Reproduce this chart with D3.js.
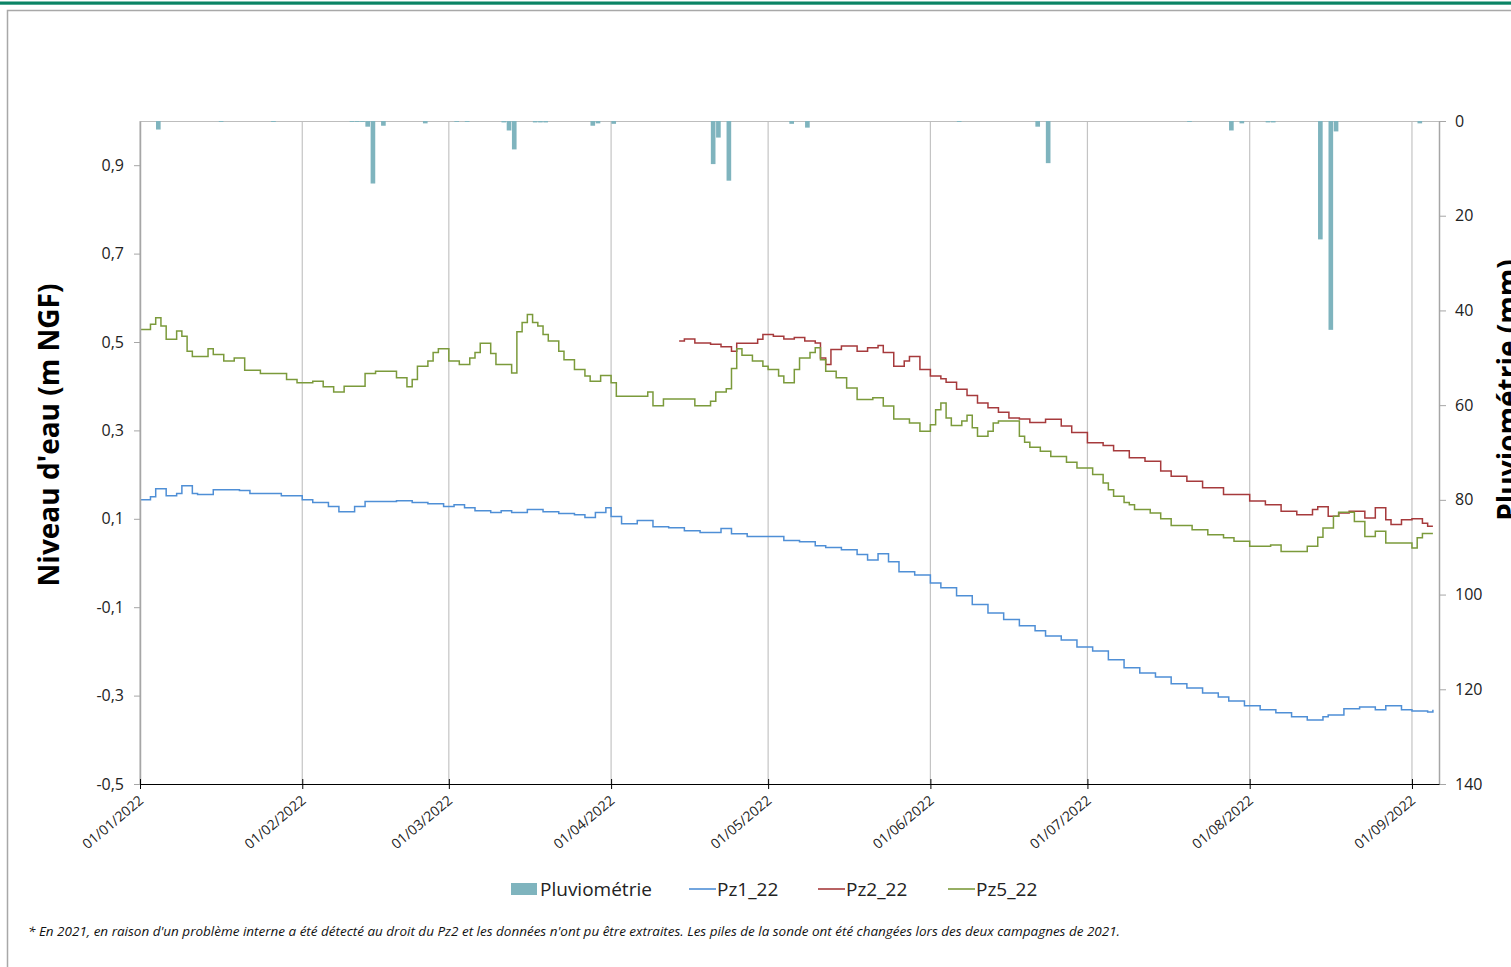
<!DOCTYPE html>
<html lang="fr">
<head>
<meta charset="utf-8">
<script src="https://cdn.jsdelivr.net/npm/d3@7"></script>
<style>
  html, body { margin: 0; padding: 0; background: #fff; }
  svg { display: block; font-family: "Open Sans", sans-serif; }
</style>
</head>
<body>
<svg id="chart" width="1511" height="967"></svg>
<script>
// Niveaux piézométriques (m NGF), relevés en escalier : [date de début du palier, valeur]
const pz1 = [
  ["2022-01-01",0.143],["2022-01-03",0.15],["2022-01-04",0.168],["2022-01-06",0.152],["2022-01-08",0.157],
  ["2022-01-09",0.175],["2022-01-11",0.157],["2022-01-12",0.155],["2022-01-15",0.166],["2022-01-20",0.164],
  ["2022-01-22",0.157],["2022-01-28",0.152],["2022-02-01",0.143],["2022-02-03",0.137],["2022-02-06",0.128],
  ["2022-02-08",0.116],["2022-02-11",0.128],["2022-02-13",0.139],["2022-02-19",0.141],["2022-02-22",0.137],
  ["2022-02-25",0.134],["2022-02-28",0.128],["2022-03-02",0.132],["2022-03-04",0.125],["2022-03-06",0.118],
  ["2022-03-09",0.114],["2022-03-11",0.118],["2022-03-13",0.114],["2022-03-16",0.121],["2022-03-19",0.116],
  ["2022-03-22",0.112],["2022-03-25",0.109],["2022-03-27",0.103],["2022-03-29",0.114],["2022-03-31",0.125],
  ["2022-04-01",0.105],["2022-04-03",0.089],["2022-04-06",0.096],["2022-04-09",0.082],["2022-04-12",0.08],
  ["2022-04-15",0.073],["2022-04-18",0.069],["2022-04-22",0.078],["2022-04-24",0.066],["2022-04-27",0.06],
  ["2022-05-04",0.051],["2022-05-07",0.048],["2022-05-10",0.039],["2022-05-12",0.035],["2022-05-15",0.03],
  ["2022-05-18",0.019],["2022-05-20",0.007],["2022-05-22",0.021],["2022-05-24",0.003],["2022-05-26",-0.02],
  ["2022-05-29",-0.027],["2022-06-01",-0.045],["2022-06-03",-0.056],["2022-06-06",-0.074],["2022-06-09",-0.094],
  ["2022-06-12",-0.113],["2022-06-15",-0.128],["2022-06-18",-0.142],["2022-06-21",-0.153],["2022-06-23",-0.165],
  ["2022-06-26",-0.174],["2022-06-29",-0.19],["2022-07-02",-0.199],["2022-07-05",-0.219],["2022-07-08",-0.237],
  ["2022-07-11",-0.249],["2022-07-14",-0.258],["2022-07-17",-0.273],["2022-07-20",-0.283],["2022-07-23",-0.294],
  ["2022-07-26",-0.303],["2022-07-28",-0.312],["2022-07-31",-0.323],["2022-08-03",-0.332],["2022-08-06",-0.339],
  ["2022-08-09",-0.348],["2022-08-12",-0.355],["2022-08-15",-0.348],["2022-08-16",-0.344],["2022-08-19",-0.33],
  ["2022-08-22",-0.326],["2022-08-25",-0.332],["2022-08-27",-0.323],["2022-08-30",-0.332],["2022-09-01",-0.335],
  ["2022-09-04",-0.337],["2022-09-05",-0.332]
];

const pz2 = [
  ["2022-04-14",0.502],["2022-04-15",0.507],["2022-04-17",0.498],["2022-04-20",0.495],["2022-04-22",0.489],
  ["2022-04-24",0.479],["2022-04-25",0.497],["2022-04-29",0.506],["2022-04-30",0.517],["2022-05-02",0.513],
  ["2022-05-04",0.507],["2022-05-06",0.51],["2022-05-08",0.502],["2022-05-10",0.498],["2022-05-11",0.464],
  ["2022-05-12",0.449],["2022-05-13",0.483],["2022-05-15",0.491],["2022-05-18",0.479],["2022-05-20",0.487],
  ["2022-05-22",0.492],["2022-05-23",0.476],["2022-05-25",0.445],["2022-05-27",0.457],["2022-05-28",0.467],
  ["2022-05-30",0.438],["2022-06-01",0.423],["2022-06-03",0.417],["2022-06-04",0.409],["2022-06-06",0.393],
  ["2022-06-08",0.379],["2022-06-10",0.362],["2022-06-12",0.351],["2022-06-14",0.341],["2022-06-16",0.328],
  ["2022-06-18",0.326],["2022-06-20",0.318],["2022-06-23",0.325],["2022-06-26",0.31],["2022-06-28",0.295],
  ["2022-07-01",0.272],["2022-07-04",0.266],["2022-07-06",0.254],["2022-07-09",0.238],["2022-07-12",0.23],
  ["2022-07-15",0.208],["2022-07-17",0.196],["2022-07-20",0.185],["2022-07-23",0.17],["2022-07-27",0.155],
  ["2022-08-01",0.14],["2022-08-04",0.132],["2022-08-07",0.117],["2022-08-10",0.109],["2022-08-13",0.121],
  ["2022-08-14",0.127],["2022-08-16",0.106],["2022-08-18",0.113],["2022-08-20",0.117],["2022-08-23",0.102],
  ["2022-08-25",0.125],["2022-08-27",0.098],["2022-08-28",0.087],["2022-08-30",0.098],["2022-09-01",0.1],
  ["2022-09-03",0.09],["2022-09-04",0.083],["2022-09-05",0.083]
];

const pz5 = [
  ["2022-01-01",0.528],["2022-01-03",0.54],["2022-01-04",0.555],["2022-01-05",0.536],["2022-01-06",0.506],
  ["2022-01-08",0.525],["2022-01-09",0.513],["2022-01-10",0.479],["2022-01-11",0.467],["2022-01-14",0.485],
  ["2022-01-15",0.472],["2022-01-17",0.457],["2022-01-19",0.464],["2022-01-21",0.436],["2022-01-24",0.429],
  ["2022-01-29",0.415],["2022-01-31",0.408],["2022-02-03",0.411],["2022-02-05",0.399],["2022-02-07",0.387],
  ["2022-02-09",0.4],["2022-02-13",0.429],["2022-02-15",0.434],["2022-02-19",0.419],["2022-02-21",0.399],
  ["2022-02-22",0.415],["2022-02-23",0.445],["2022-02-25",0.457],["2022-02-26",0.476],["2022-02-27",0.485],
  ["2022-03-01",0.457],["2022-03-03",0.449],["2022-03-05",0.464],["2022-03-06",0.476],["2022-03-07",0.497],
  ["2022-03-09",0.474],["2022-03-10",0.449],["2022-03-13",0.43],["2022-03-14",0.523],["2022-03-15",0.544],
  ["2022-03-16",0.562],["2022-03-17",0.544],["2022-03-18",0.536],["2022-03-19",0.517],["2022-03-20",0.502],
  ["2022-03-22",0.479],["2022-03-23",0.46],["2022-03-25",0.438],["2022-03-27",0.423],["2022-03-28",0.411],
  ["2022-03-30",0.424],["2022-04-01",0.408],["2022-04-02",0.377],["2022-04-08",0.387],["2022-04-09",0.356],
  ["2022-04-11",0.371],["2022-04-17",0.356],["2022-04-20",0.366],["2022-04-21",0.387],["2022-04-23",0.394],
  ["2022-04-24",0.44],["2022-04-25",0.485],["2022-04-26",0.47],["2022-04-28",0.457],["2022-04-30",0.445],
  ["2022-05-01",0.438],["2022-05-03",0.423],["2022-05-04",0.408],["2022-05-06",0.438],["2022-05-07",0.464],
  ["2022-05-09",0.476],["2022-05-10",0.487],["2022-05-11",0.46],["2022-05-12",0.434],["2022-05-14",0.419],
  ["2022-05-16",0.396],["2022-05-18",0.37],["2022-05-21",0.374],["2022-05-23",0.355],["2022-05-25",0.326],
  ["2022-05-28",0.317],["2022-05-30",0.298],["2022-06-01",0.313],["2022-06-02",0.347],["2022-06-03",0.362],
  ["2022-06-04",0.328],["2022-06-05",0.311],["2022-06-07",0.321],["2022-06-08",0.334],["2022-06-09",0.306],
  ["2022-06-10",0.287],["2022-06-12",0.298],["2022-06-13",0.317],["2022-06-14",0.321],["2022-06-18",0.287],
  ["2022-06-19",0.273],["2022-06-20",0.262],["2022-06-22",0.253],["2022-06-24",0.241],["2022-06-27",0.228],
  ["2022-06-29",0.215],["2022-07-02",0.2],["2022-07-04",0.181],["2022-07-05",0.166],["2022-07-06",0.151],
  ["2022-07-08",0.137],["2022-07-09",0.132],["2022-07-10",0.121],["2022-07-13",0.113],["2022-07-15",0.1],
  ["2022-07-17",0.085],["2022-07-21",0.075],["2022-07-24",0.064],["2022-07-27",0.057],["2022-07-29",0.049],
  ["2022-08-01",0.038],["2022-08-05",0.041],["2022-08-07",0.026],["2022-08-12",0.038],["2022-08-14",0.058],
  ["2022-08-15",0.079],["2022-08-17",0.106],["2022-08-18",0.115],["2022-08-21",0.094],["2022-08-23",0.06],
  ["2022-08-25",0.072],["2022-08-27",0.045],["2022-09-01",0.034],["2022-09-02",0.057],["2022-09-03",0.067],
  ["2022-09-05",0.067]
];

// Pluviométrie journalière (mm)
const rain = [
  ["2022-01-04",1.8],["2022-01-16",0.2],["2022-01-26",0.2],["2022-02-10",0.2],["2022-02-11",0.2],
  ["2022-02-12",0.2],["2022-02-13",1.2],["2022-02-14",13.2],["2022-02-16",1.0],["2022-02-24",0.5],
  ["2022-03-02",0.2],["2022-03-04",0.2],["2022-03-11",0.3],["2022-03-12",2.0],["2022-03-13",6.0],
  ["2022-03-17",0.3],["2022-03-18",0.3],["2022-03-19",0.3],["2022-03-28",1.0],["2022-03-29",0.5],
  ["2022-04-01",0.6],["2022-04-20",9.1],["2022-04-21",3.5],["2022-04-23",12.6],["2022-05-05",0.6],
  ["2022-05-08",1.4],["2022-06-06",0.2],["2022-06-21",1.2],["2022-06-23",8.9],["2022-07-20",0.2],
  ["2022-07-28",2.0],["2022-07-30",0.5],["2022-08-04",0.3],["2022-08-05",0.3],["2022-08-14",25.0],
  ["2022-08-16",44.1],["2022-08-17",2.2],["2022-09-02",0.5]
];

const levelTicks = [-0.5, -0.3, -0.1, 0.1, 0.3, 0.5, 0.7, 0.9];
const rainTicks = [0, 20, 40, 60, 80, 100, 120, 140];

const series = [
  { name: "Pz1_22", data: pz1, color: "#4f8fd6" },
  { name: "Pz2_22", data: pz2, color: "#a63a3c" },
  { name: "Pz5_22", data: pz5, color: "#7b9a3b" }
];
const rainColor = "#7fb4be";

const parse = d3.utcParse("%Y-%m-%d");
const fmtNum = d3.formatLocale({ decimal: ",", thousands: " ", grouping: [3], currency: ["", " €"], minus: "-" }).format(".1f");
const fmtDate = d3.utcFormat("%d/%m/%Y");

const svg = d3.select("#chart");
const W = 1511, H = 967;
const plot = { left: 140, right: 1439, top: 121, bottom: 784 };

// Cadre du document
svg.append("rect").attr("x", 0).attr("y", 1.5).attr("width", W).attr("height", 3.2).attr("fill", "#0b8465");
svg.append("path")
  .attr("d", `M7.5,${H} V10.5 H${W}`)
  .attr("fill", "none").attr("stroke", "#a8a8a8").attr("stroke-width", 1.5);

// Échelles
const x = d3.scaleUtc()
  .domain([parse("2022-01-01"), d3.utcHour.offset(parse("2022-09-06"), 4)])
  .range([plot.left, plot.right]);
const y = d3.scaleLinear().domain([-0.5, 1.0]).range([plot.bottom, plot.top]);
const yRain = d3.scaleLinear().domain([0, 140]).range([plot.top, plot.bottom]);

const monthTicks = d3.utcMonth.range(parse("2022-01-01"), parse("2022-09-02"));

// Quadrillage vertical mensuel
svg.append("g").selectAll("line").data(monthTicks).join("line")
  .attr("x1", d => x(d)).attr("x2", d => x(d))
  .attr("y1", plot.top).attr("y2", plot.bottom)
  .attr("stroke", "#c4c4c4").attr("stroke-width", 1.2);

// Bordure haute de la zone de tracé
svg.append("line")
  .attr("x1", plot.left).attr("x2", plot.right)
  .attr("y1", plot.top + 0.5).attr("y2", plot.top + 0.5)
  .attr("stroke", "#bdbdbd").attr("stroke-width", 1.2);

// Barres de pluie (axe secondaire inversé)
const day = 24 * 3600 * 1000;
svg.append("g").selectAll("rect").data(rain).join("rect")
  .attr("x", d => x(parse(d[0])) + 0.3)
  .attr("width", d => x(new Date(+parse(d[0]) + day)) - x(parse(d[0])) - 0.6)
  .attr("y", yRain(0))
  .attr("height", d => yRain(d[1]) - yRain(0))
  .attr("fill", rainColor);

// Courbes piézométriques en escalier
const line = d3.line()
  .x(d => x(parse(d[0])))
  .y(d => y(d[1]))
  .curve(d3.curveStepAfter);

svg.append("g").selectAll("path").data(series).join("path")
  .attr("d", s => line(s.data))
  .attr("fill", "none")
  .attr("stroke", s => s.color)
  .attr("stroke-width", 1.5)
  .attr("stroke-linejoin", "miter");

// Axe gauche
const axisLeft = d3.axisLeft(y).tickValues(levelTicks).tickFormat(fmtNum).tickSizeOuter(0).tickSizeInner(6).tickPadding(10);
const gl = svg.append("g").attr("transform", `translate(${plot.left},0)`).call(axisLeft);
gl.select(".domain").attr("stroke", "#a6a6a6").attr("stroke-width", 1.5);
gl.selectAll(".tick line").attr("stroke", "#a6a6a6");
gl.selectAll(".tick text").attr("font-size", 16).attr("fill", "#222").attr("font-family", "Open Sans");

// Axe droit
const axisRight = d3.axisRight(yRain).tickValues(rainTicks).tickSizeOuter(0).tickSizeInner(7).tickPadding(9);
const gr = svg.append("g").attr("transform", `translate(${plot.right},0)`).call(axisRight);
gr.select(".domain").attr("stroke", "#a6a6a6").attr("stroke-width", 1.5);
gr.selectAll(".tick line").attr("stroke", "#a6a6a6");
gr.selectAll(".tick text").attr("font-size", 16).attr("fill", "#222").attr("font-family", "Open Sans");

// Axe des dates
const axisBottom = d3.axisBottom(x).tickValues(monthTicks).tickFormat(fmtDate).tickSizeOuter(0).tickSizeInner(5);
const gb = svg.append("g").attr("transform", `translate(0,${plot.bottom})`).call(axisBottom);
gb.select(".domain").attr("stroke", "#000").attr("stroke-width", 1.2);
gb.selectAll(".tick line").attr("y1", -5).attr("y2", 5).attr("stroke", "#000");
gb.selectAll(".tick text")
  .attr("font-size", 14).attr("fill", "#222").attr("font-family", "Open Sans")
  .attr("text-anchor", "end")
  .attr("dy", null).attr("y", null)
  .attr("transform", "translate(4,18) rotate(-40)");

// Titres d'axes
svg.append("text")
  .attr("transform", "translate(59,435) rotate(-90)")
  .attr("text-anchor", "middle")
  .attr("font-weight", "bold").attr("font-size", 28).attr("fill", "#000")
  .text("Niveau d'eau (m NGF)");
svg.append("text")
  .attr("transform", "translate(1518,390) rotate(-90)")
  .attr("text-anchor", "middle")
  .attr("font-weight", "bold").attr("font-size", 28).attr("fill", "#000")
  .text("Pluviométrie (mm)");

// Légende
const legend = svg.append("g").attr("font-size", 19).attr("fill", "#222");
legend.append("rect").attr("x", 511).attr("y", 883).attr("width", 26).attr("height", 12).attr("fill", rainColor);
legend.append("text").attr("x", 540).attr("y", 896).text("Pluviométrie");
const legendX = [689, 818, 948];
series.forEach((s, i) => {
  legend.append("line").attr("x1", legendX[i]).attr("x2", legendX[i] + 27)
    .attr("y1", 889).attr("y2", 889).attr("stroke", s.color).attr("stroke-width", 1.6);
  legend.append("text").attr("x", legendX[i] + 28).attr("y", 896).text(s.name);
});

// Note de bas de graphique
svg.append("text")
  .attr("x", 28).attr("y", 936)
  .attr("font-size", 12.5).attr("font-style", "italic").attr("fill", "#111")
  .attr("textLength", 1092).attr("lengthAdjust", "spacingAndGlyphs")
  .text("* En 2021, en raison d'un problème interne a été détecté au droit du Pz2 et les données n'ont pu être extraites. Les piles de la sonde ont été changées lors des deux campagnes de 2021.");
</script>
</body>
</html>
